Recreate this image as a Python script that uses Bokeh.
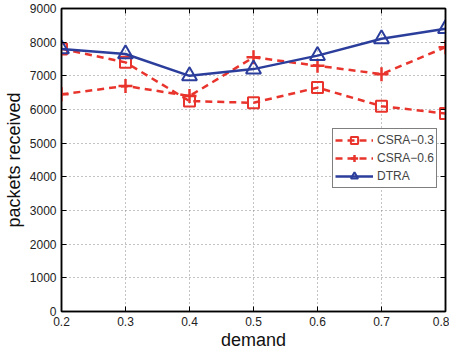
from bokeh.plotting import figure
from bokeh.models import LinearAxis, Legend, LegendItem, FixedTicker, Range1d
from bokeh.embed import file_html
from bokeh.resources import INLINE

demand = [0.2, 0.3, 0.4, 0.5, 0.6, 0.7, 0.8]
csra03 = [7800, 7400, 6250, 6200, 6650, 6100, 5880]
csra06 = [6450, 6700, 6400, 7550, 7300, 7050, 7850]
dtra = [7800, 7650, 7000, 7200, 7600, 8100, 8400]
x_ticks = [0.2, 0.3, 0.4, 0.5, 0.6, 0.7, 0.8]
y_ticks = [0, 1000, 2000, 3000, 4000, 5000, 6000, 7000, 8000, 9000]

RED = "#e8342c"
BLUE = "#2c3e9c"
FONT = "Liberation Sans"

p = figure(frame_width=384, frame_height=303, output_backend="svg", toolbar_location=None,
           x_range=Range1d(0.2, 0.8), y_range=Range1d(0, 9000),
           min_border_left=10, min_border_right=4, min_border_top=8, min_border_bottom=0)
p.outline_line_color = "black"
p.outline_line_width = 1.5

for ax, ticks in ((p.xaxis[0], x_ticks), (p.yaxis[0], y_ticks)):
    ax.ticker = FixedTicker(ticks=ticks)
    ax.major_tick_in = 5
    ax.major_tick_out = 0
    ax.minor_tick_line_color = None
    ax.axis_line_width = 1.5
    ax.major_label_text_font = FONT
    ax.major_label_text_font_size = "12px"
    ax.major_label_text_color = "#222222"
    ax.axis_label_text_font = FONT
    ax.axis_label_text_font_size = "18px"
    ax.axis_label_text_font_style = "normal"
    ax.axis_label_text_color = "#111111"
p.xaxis[0].axis_label = "demand"
p.yaxis[0].axis_label = "packets received"
p.xaxis[0].major_label_standoff = 5
p.xaxis[0].axis_label_standoff = 1
p.yaxis[0].major_label_standoff = 5
p.yaxis[0].axis_label_standoff = 3

for loc, ticks in (("right", y_ticks), ("above", x_ticks)):
    ax = LinearAxis(ticker=FixedTicker(ticks=ticks))
    ax.major_tick_in = 5
    ax.major_tick_out = 0
    ax.minor_tick_line_color = None
    ax.major_label_text_font_size = "0px"
    ax.major_label_standoff = 0
    ax.axis_line_width = 1.5
    p.add_layout(ax, loc)

p.xgrid.ticker = FixedTicker(ticks=x_ticks)
p.ygrid.ticker = FixedTicker(ticks=y_ticks)
for g in (p.xgrid, p.ygrid):
    g.grid_line_color = "#888888"
    g.grid_line_dash = "1 3"
    g.grid_line_width = 1

l1 = p.line(demand, csra03, line_color=RED, line_width=2.5, line_dash="7 5")
m1 = p.scatter(demand, csra03, marker="square", size=11, fill_color=None,
               line_color=RED, line_width=2)
l2 = p.line(demand, csra06, line_color=RED, line_width=2.5, line_dash="7 5")
m2 = p.scatter(demand, csra06, marker="cross", size=14, line_color=RED, line_width=2.5)
l3 = p.line(demand, dtra, line_color=BLUE, line_width=2.5)
m3 = p.scatter(demand, dtra, marker="triangle", size=15, fill_color=None,
               line_color=BLUE, line_width=2)

legend = Legend(items=[
    LegendItem(label="CSRA\u22120.3", renderers=[l1, m1]),
    LegendItem(label="CSRA\u22120.6", renderers=[l2, m2]),
    LegendItem(label="DTRA", renderers=[l3, m3]),
], location=(271, 123))
legend.label_text_font = FONT
legend.label_text_font_size = "12px"
legend.glyph_width = 38
legend.glyph_height = 18
legend.spacing = 0
legend.padding = 2
legend.margin = 0
legend.label_standoff = 4
legend.border_line_color = "black"
legend.border_line_width = 1.5
legend.background_fill_alpha = 1
p.add_layout(legend, "center")

open("out.html", "w").write(file_html(p, INLINE))
